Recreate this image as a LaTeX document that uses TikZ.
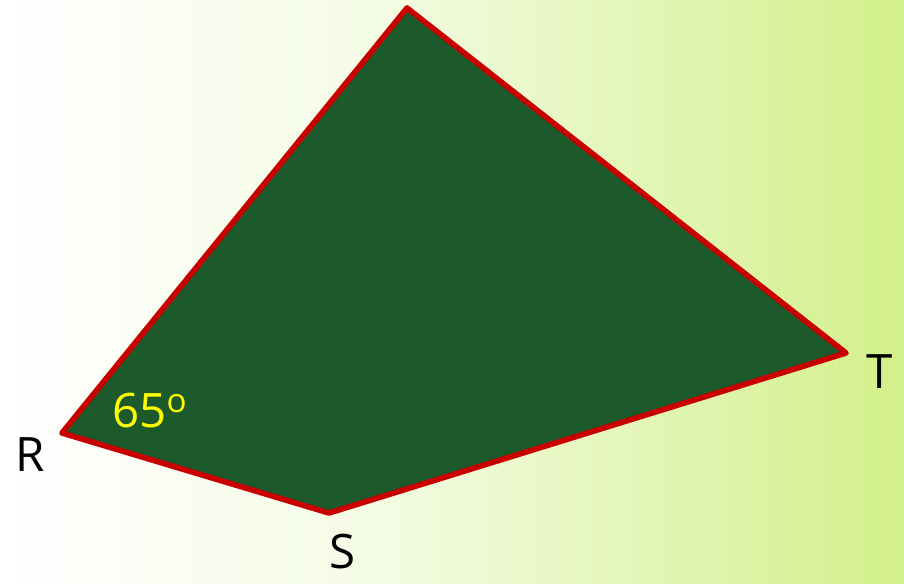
\documentclass[tikz,border=0pt]{standalone}
\usepackage{fontspec}
\setmainfont{Open Sans}
\usetikzlibrary{positioning,calc}
\definecolor{quadgreen}{HTML}{1C5A2C}
\definecolor{quadred}{HTML}{C80000}
\definecolor{bglime}{HTML}{D2F08A}
\definecolor{bgpale}{HTML}{F4FBE4}
\definecolor{angyellow}{HTML}{FFFF00}

\begin{document}
\begin{tikzpicture}[font=\fontsize{27}{30}\selectfont,
  vlabel/.style={text=black, inner sep=0pt},
  anglabel/.style={text=angyellow, inner sep=0pt}]
  \fill[left color=white, right color=bgpale] (0,0) rectangle (7.5,11.66);
  \fill[left color=bgpale, right color=bglime] (7.5,0) rectangle (18.08,11.66);
  \useasboundingbox (0,0) rectangle (18.08,11.66);
  \coordinate (q) at (8.14,11.50);
  \coordinate (t) at (16.92,4.60);
  \coordinate (s) at (6.58,1.40);
  \coordinate (r) at (1.24,3.00);
  \draw[quadred, fill=quadgreen, line width=3.2pt, line join=round] (r) -- (q) -- (t) -- (s) -- cycle;
  \node[vlabel] (rl) at (0.60,2.56) {R};
  \node[vlabel] (sl) at (6.86,0.62) {S};
  \node[vlabel] (tl) at (17.60,4.22) {T};
  \node[anglabel] (ang) at (3.00,3.44) {65\textsuperscript{o}};
\end{tikzpicture}
\end{document}
